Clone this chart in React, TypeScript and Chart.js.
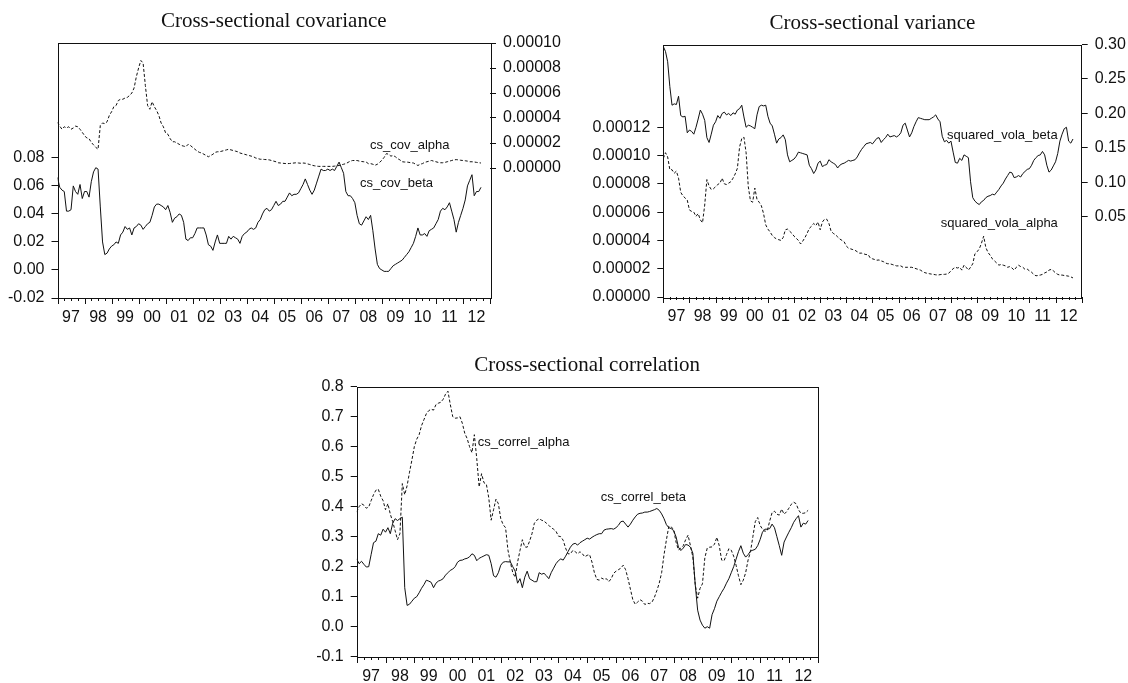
import React, { useEffect, useRef } from 'react';
import { Chart, registerables } from 'chart.js';

Chart.register(...registerables);

// ---------------------------------------------------------------------------
// Monthly observations, January 1997 onward
// ---------------------------------------------------------------------------
const START_YEAR = 1997;
const yearLabels = ['97', '98', '99', '00', '01', '02', '03', '04', '05', '06', '07', '08', '09', '10', '11', '12'];

// Cross-sectional covariance of betas (left axis)
const csCovBeta = [
  0.066, 0.059, 0.057, 0.056, 0.042, 0.042, 0.043, 0.060, 0.056, 0.054, 0.061, 0.051,
  0.056, 0.056, 0.052, 0.063, 0.070, 0.073, 0.072, 0.045, 0.020, 0.011, 0.012, 0.015,
  0.017, 0.018, 0.020, 0.019, 0.025, 0.027, 0.031, 0.029, 0.030, 0.025, 0.030, 0.031,
  0.033, 0.032, 0.029, 0.031, 0.033, 0.034, 0.039, 0.045, 0.047, 0.047, 0.046, 0.045,
  0.043, 0.046, 0.041, 0.034, 0.037, 0.038, 0.040, 0.039, 0.034, 0.022, 0.021, 0.023,
  0.023, 0.026, 0.030, 0.030, 0.030, 0.030, 0.025, 0.018, 0.017, 0.014, 0.020, 0.025,
  0.019, 0.019, 0.019, 0.019, 0.024, 0.022, 0.024, 0.023, 0.022, 0.019, 0.024, 0.026,
  0.027, 0.029, 0.030, 0.029, 0.030, 0.034, 0.036, 0.040, 0.043, 0.044, 0.042, 0.043,
  0.046, 0.049, 0.046, 0.047, 0.049, 0.049, 0.052, 0.055, 0.053, 0.054, 0.054, 0.055,
  0.058, 0.061, 0.065, 0.061, 0.057, 0.054, 0.057, 0.062, 0.067, 0.072, 0.071, 0.071,
  0.072, 0.071, 0.072, 0.071, 0.074, 0.077, 0.073, 0.069, 0.056, 0.053, 0.053, 0.051,
  0.048, 0.039, 0.033, 0.032, 0.035, 0.038, 0.036, 0.039, 0.028, 0.015, 0.004, 0.001,
  0.000, -0.001, -0.001, -0.001, 0.001, 0.003, 0.004, 0.005, 0.006, 0.007, 0.009, 0.011,
  0.013, 0.016, 0.019, 0.024, 0.030, 0.025, 0.025, 0.026, 0.024, 0.028, 0.029, 0.030,
  0.033, 0.036, 0.042, 0.044, 0.043, 0.045, 0.048, 0.042, 0.036, 0.027, 0.034, 0.039,
  0.044, 0.050, 0.060, 0.064, 0.068, 0.053, 0.056, 0.056, 0.059,
];

// Cross-sectional covariance of alphas, in units of 1e-5 (right axis)
const csCovAlphaE5 = [
  3.65, 3.35, 3.1, 3.3, 3.2, 3.3, 3.1, 3.2, 3.35, 3.3, 3.1, 2.85,
  2.6, 2.4, 2.35, 2.05, 1.85, 1.65, 1.5, 3.4, 3.6, 3.55, 3.7, 4.2,
  4.5, 4.9, 5.0, 5.4, 5.5, 5.5, 5.6, 5.65, 5.8, 6.0, 6.4, 7.3,
  8.0, 8.6, 8.4, 6.6, 5.0, 4.7, 5.3, 4.9, 4.6, 4.2, 3.6, 3.3,
  2.8, 2.7, 2.35, 2.1, 2.1, 2.0, 1.9, 1.8, 1.75, 1.7, 1.9, 1.8,
  1.65, 1.5, 1.35, 1.25, 1.2, 1.1, 1.0, 0.9, 1.0, 1.1, 1.25, 1.3,
  1.3, 1.35, 1.4, 1.45, 1.5, 1.45, 1.4, 1.35, 1.3, 1.2, 1.15, 1.1,
  1.05, 1.0, 0.95, 0.9, 0.8, 0.75, 0.7, 0.7, 0.68, 0.67, 0.65, 0.6,
  0.55, 0.5, 0.42, 0.4, 0.38, 0.36, 0.35, 0.36, 0.38, 0.4, 0.42, 0.4,
  0.38, 0.4, 0.38, 0.33, 0.28, 0.22, 0.18, 0.15, 0.13, 0.13, 0.13, 0.13,
  0.13, 0.13, 0.13, 0.15, 0.18, 0.2, 0.25, 0.3, 0.35, 0.45, 0.55, 0.6,
  0.6, 0.6, 0.55, 0.52, 0.5, 0.48, 0.35, 0.35, 0.3, 0.22, 0.3, 0.45,
  0.62, 0.85, 1.15, 1.1, 0.95, 1.0, 0.9, 0.75, 0.65, 0.5, 0.48, 0.48,
  0.45, 0.42, 0.4, 0.3, 0.2, 0.3, 0.35, 0.45, 0.5, 0.55, 0.6, 0.55,
  0.5, 0.45, 0.42, 0.42, 0.45, 0.5, 0.55, 0.6, 0.65, 0.67, 0.65, 0.62,
  0.6, 0.58, 0.55, 0.5, 0.5, 0.48, 0.45, 0.42, 0.4,
];

// Squared volatility of betas (right axis)
const squaredVolaBeta = [
  0.297, 0.290, 0.275, 0.239, 0.212, 0.214, 0.213, 0.225, 0.197, 0.195, 0.196, 0.172,
  0.176, 0.174, 0.170, 0.180, 0.192, 0.205, 0.199, 0.190, 0.165, 0.158, 0.170, 0.183,
  0.188, 0.197, 0.193, 0.200, 0.202, 0.198, 0.200, 0.197, 0.201, 0.199, 0.205, 0.207,
  0.212, 0.195, 0.180, 0.183, 0.182, 0.180, 0.178, 0.198, 0.210, 0.212, 0.211, 0.212,
  0.196, 0.186, 0.182, 0.170, 0.157, 0.163, 0.165, 0.169, 0.162, 0.140, 0.130, 0.132,
  0.134, 0.138, 0.144, 0.143, 0.142, 0.141, 0.140, 0.125, 0.120, 0.113, 0.118, 0.128,
  0.131, 0.123, 0.125, 0.126, 0.133, 0.130, 0.128, 0.126, 0.121, 0.125, 0.127, 0.128,
  0.130, 0.132, 0.131, 0.132, 0.133, 0.137, 0.143, 0.148, 0.152, 0.156, 0.157, 0.158,
  0.156, 0.160, 0.164, 0.165, 0.158, 0.162, 0.165, 0.170, 0.166, 0.167, 0.168, 0.166,
  0.168, 0.172, 0.183, 0.186, 0.176, 0.166, 0.172, 0.181, 0.188, 0.194, 0.193, 0.192,
  0.191, 0.191, 0.191, 0.193, 0.195, 0.198, 0.192, 0.188, 0.167, 0.159, 0.161, 0.157,
  0.160, 0.144, 0.129, 0.128, 0.135, 0.132, 0.140, 0.138, 0.136, 0.101, 0.078, 0.073,
  0.070, 0.068, 0.072, 0.074, 0.078, 0.080, 0.081, 0.083, 0.082, 0.086, 0.090, 0.095,
  0.099, 0.105, 0.110, 0.115, 0.114, 0.107, 0.108, 0.110, 0.108, 0.113, 0.116, 0.119,
  0.120, 0.125, 0.132, 0.136, 0.139, 0.140, 0.145, 0.140, 0.125, 0.115, 0.118, 0.124,
  0.130, 0.142, 0.160, 0.170, 0.178, 0.180, 0.160, 0.157, 0.163,
];

// Squared volatility of alphas, in units of 1e-5 (left axis)
const squaredVolaAlphaE5 = [
  9.8, 10.2, 9.9, 9.0, 9.0, 8.75, 8.9, 8.4, 7.4, 7.15, 7.0, 6.85,
  6.15, 6.05, 6.0, 5.7, 5.9, 5.45, 5.25, 6.5, 8.3, 7.85, 7.6, 7.65,
  7.8, 7.95, 8.05, 8.4, 8.0, 7.95, 8.05, 8.15, 8.4, 8.7, 9.1, 10.6,
  11.2, 11.3, 10.2, 7.8, 6.8, 6.7, 7.7, 6.9, 6.7, 6.45, 5.9, 5.1,
  4.8, 4.6, 4.35, 4.2, 4.1, 4.05, 4.0, 4.2, 4.75, 4.8, 4.65, 4.5,
  4.3, 4.15, 4.0, 3.75, 3.95, 4.2, 4.5, 4.85, 5.0, 5.2, 5.05, 5.3,
  4.75, 5.3, 5.5, 5.5, 5.2, 4.65, 4.5, 4.4, 4.25, 4.1, 4.0, 3.9,
  3.6, 3.45, 3.4, 3.35, 3.3, 3.2, 3.1, 3.1, 3.05, 3.0, 3.0, 2.75,
  2.7, 2.65, 2.6, 2.62, 2.55, 2.5, 2.4, 2.35, 2.35, 2.3, 2.25, 2.2,
  2.2, 2.2, 2.1, 2.1, 2.1, 2.1, 2.1, 2.05, 2.0, 1.95, 1.9, 1.8,
  1.72, 1.68, 1.65, 1.62, 1.6, 1.57, 1.55, 1.58, 1.6, 1.6, 1.62, 1.68,
  1.85, 2.0, 2.1, 2.05, 2.1, 1.9, 2.25, 2.1, 1.9, 2.1, 2.35, 3.05,
  3.2, 3.4, 3.8, 4.3, 3.5, 3.15, 2.95, 2.7, 2.55, 2.4, 2.25, 2.3,
  2.25, 2.2, 2.1, 2.15, 2.05, 1.9, 2.1, 2.25, 2.15, 2.1, 1.95, 1.97,
  1.85, 1.75, 1.6, 1.5, 1.52, 1.55, 1.6, 1.7, 1.77, 1.9, 1.95, 1.85,
  1.7, 1.6, 1.55, 1.55, 1.52, 1.5, 1.47, 1.42, 1.35,
];

// Cross-sectional correlation of betas
const csCorrelBeta = [
  0.226, 0.21, 0.218, 0.208, 0.199, 0.2, 0.24, 0.28, 0.285, 0.31, 0.305, 0.325,
  0.315, 0.33, 0.31, 0.345, 0.36, 0.354, 0.36, 0.365, 0.13, 0.071, 0.075, 0.085,
  0.095, 0.1, 0.113, 0.128, 0.14, 0.155, 0.152, 0.148, 0.13, 0.145, 0.152, 0.155,
  0.16, 0.172, 0.18, 0.188, 0.192, 0.2, 0.215, 0.221, 0.222, 0.226, 0.228, 0.233,
  0.243, 0.238, 0.22, 0.228, 0.232, 0.236, 0.24, 0.238, 0.21, 0.17, 0.165, 0.18,
  0.205, 0.215, 0.217, 0.216, 0.216, 0.2, 0.185, 0.145, 0.16, 0.13, 0.165, 0.185,
  0.16, 0.155, 0.15, 0.15, 0.18, 0.175, 0.178, 0.17, 0.16, 0.18, 0.195, 0.21,
  0.22, 0.226, 0.222, 0.235, 0.25, 0.265, 0.275, 0.278, 0.272, 0.28, 0.285, 0.29,
  0.295, 0.292, 0.298, 0.303, 0.307, 0.31, 0.31, 0.322, 0.325, 0.326, 0.327, 0.325,
  0.33, 0.338, 0.35, 0.352, 0.342, 0.332, 0.342, 0.355, 0.366, 0.375, 0.378, 0.379,
  0.382, 0.382, 0.384, 0.387, 0.39, 0.394, 0.388, 0.376, 0.36, 0.34, 0.33, 0.327,
  0.32, 0.3, 0.265, 0.254, 0.262, 0.274, 0.272, 0.265, 0.245, 0.14, 0.055, 0.022,
  0.005, -0.005, 0.0, -0.005, 0.04, 0.06, 0.085, 0.1, 0.115, 0.128, 0.145, 0.16,
  0.18, 0.2, 0.225, 0.25, 0.27, 0.245, 0.232, 0.24, 0.252, 0.255, 0.258, 0.27,
  0.29, 0.315, 0.325, 0.325, 0.327, 0.342, 0.33, 0.3, 0.27, 0.238, 0.282, 0.299,
  0.315, 0.33, 0.348, 0.36, 0.37, 0.332, 0.345, 0.342, 0.354,
];

// Cross-sectional correlation of alphas
const csCorrelAlpha = [
  0.382, 0.4, 0.41, 0.405, 0.395, 0.399, 0.42, 0.44, 0.455, 0.458, 0.435, 0.42,
  0.39, 0.41, 0.375, 0.35, 0.32, 0.29, 0.31, 0.477, 0.44, 0.47, 0.515, 0.556,
  0.6, 0.625, 0.64, 0.67, 0.69, 0.71, 0.72, 0.725, 0.722, 0.74, 0.745, 0.748,
  0.758, 0.775, 0.785, 0.74, 0.7, 0.695, 0.696, 0.7, 0.678, 0.645, 0.627, 0.6,
  0.58, 0.64, 0.56, 0.466, 0.51, 0.48, 0.475, 0.43, 0.355, 0.39, 0.425, 0.41,
  0.36, 0.34, 0.33, 0.255, 0.215, 0.18, 0.165, 0.215, 0.254, 0.29, 0.266, 0.265,
  0.285, 0.31, 0.345, 0.355, 0.36, 0.355, 0.352, 0.345, 0.338, 0.33, 0.325, 0.318,
  0.302, 0.3, 0.288, 0.262, 0.243, 0.243, 0.254, 0.25, 0.243, 0.25, 0.243, 0.233,
  0.238, 0.24, 0.215, 0.18, 0.158, 0.155, 0.162, 0.158, 0.16, 0.15, 0.16, 0.178,
  0.185, 0.19, 0.195, 0.205, 0.19, 0.16, 0.125, 0.09, 0.075, 0.082, 0.09, 0.085,
  0.074, 0.078, 0.077, 0.082, 0.098, 0.12, 0.145, 0.18, 0.24, 0.29, 0.335, 0.332,
  0.325, 0.282, 0.256, 0.262, 0.27, 0.29, 0.305, 0.27, 0.232, 0.14, 0.095, 0.128,
  0.143, 0.23, 0.262, 0.265, 0.266, 0.275, 0.298, 0.27, 0.222, 0.22, 0.24, 0.26,
  0.255, 0.235, 0.205, 0.17, 0.14, 0.155, 0.18, 0.222, 0.25, 0.3, 0.35, 0.364,
  0.338, 0.325, 0.318, 0.32, 0.352, 0.38, 0.385, 0.375, 0.372, 0.392, 0.375, 0.383,
  0.395, 0.408, 0.415, 0.41, 0.39, 0.378, 0.378, 0.38, 0.388,
];

// Axis tick values
const covBetaTicks = [-0.02, 0, 0.02, 0.04, 0.06, 0.08];
const covAlphaTicks = [0, 0.00002, 0.00004, 0.00006, 0.00008, 0.0001];
const volaAlphaTicks = [0, 0.00002, 0.00004, 0.00006, 0.00008, 0.0001, 0.00012];
const volaBetaTicks = [0.05, 0.1, 0.15, 0.2, 0.25, 0.3];
const correlTicks = [-0.1, 0, 0.1, 0.2, 0.3, 0.4, 0.5, 0.6, 0.7, 0.8];

// ---------------------------------------------------------------------------
// Styling helpers
// ---------------------------------------------------------------------------
const SANS = '"Liberation Sans", Arial, sans-serif';
const SERIF = '"Liberation Serif", "Times New Roman", serif';
const AXIS_FONT = { family: SANS, size: 16 };
const INK = '#111';

const toPoints = (values: number[], unit = 1) =>
  values.map((v, i) => ({ x: START_YEAR + i / 12, y: v * unit }));

const lineSet = (values: number[], axis: string, dashed: boolean, unit = 1) => ({
  data: toPoints(values, unit),
  yAxisID: axis,
  borderColor: INK,
  borderWidth: 1,
  borderDash: dashed ? [3, 2] : [],
  pointRadius: 0,
  tension: 0,
  fill: false,
});

function valueAxis(position: string, min: number, max: number, ticks: number[], decimals: number, width: number) {
  return {
    type: 'linear',
    position,
    min,
    max,
    afterBuildTicks: (s: any) => {
      s.ticks = ticks.map((v) => ({ value: v }));
    },
    afterFit: (s: any) => {
      s.width = width;
    },
    ticks: {
      autoSkip: false,
      font: AXIS_FONT,
      color: INK,
      padding: 7,
      callback: (v: any) => Number(v).toFixed(decimals),
    },
    grid: { drawOnChartArea: false, drawTicks: true, tickLength: 6, color: INK, tickColor: INK },
    border: { display: false },
  };
}

function timeAxis(height: number) {
  return {
    type: 'linear',
    position: 'bottom',
    min: START_YEAR,
    max: START_YEAR + yearLabels.length,
    afterBuildTicks: (s: any) => {
      s.ticks = yearLabels.map((_, k) => ({ value: START_YEAR + k + 0.5 }));
    },
    afterFit: (s: any) => {
      s.height = height;
    },
    ticks: {
      autoSkip: false,
      maxRotation: 0,
      font: AXIS_FONT,
      color: INK,
      padding: 10,
      callback: (v: any) => yearLabels[Math.floor(Number(v)) - START_YEAR],
    },
    grid: { display: false, drawTicks: false },
    border: { display: false },
  };
}

type SeriesLabel = { text: string; x: number; y: number; axis: string };

// Frame, quarterly tick marks, panel title and in-plot series names
function decorPlugin(title: string, labels: SeriesLabel[]) {
  return {
    id: 'panelDecor',
    afterDatasetsDraw(chart: any) {
      const { ctx, chartArea } = chart;
      const { left, right, top, bottom } = chartArea;
      const xs = chart.scales.x;
      ctx.save();
      ctx.strokeStyle = INK;
      ctx.lineWidth = 1;
      ctx.setLineDash([]);
      ctx.strokeRect(Math.round(left) + 0.5, Math.round(top) + 0.5, Math.round(right - left), Math.round(bottom - top));

      const quarters = yearLabels.length * 4;
      ctx.beginPath();
      for (let q = 0; q <= quarters; q++) {
        const px = Math.round(xs.getPixelForValue(START_YEAR + q / 4)) + 0.5;
        const len = q % 4 === 0 ? 6 : 3;
        ctx.moveTo(px, Math.round(bottom));
        ctx.lineTo(px, Math.round(bottom) + len);
      }
      ctx.stroke();

      ctx.fillStyle = INK;
      ctx.font = `21px ${SERIF}`;
      ctx.textAlign = 'center';
      ctx.textBaseline = 'alphabetic';
      ctx.fillText(title, (left + right) / 2, top - 16);

      ctx.font = `13px ${SANS}`;
      ctx.textAlign = 'left';
      labels.forEach((l) => {
        ctx.fillText(l.text, xs.getPixelForValue(l.x), chart.scales[l.axis].getPixelForValue(l.y));
      });
      ctx.restore();
    },
  };
}

type PanelSpec = {
  left: number;
  top: number;
  width: number;
  height: number;
  padTop: number;
  padRight: number;
  title: string;
  datasets: any[];
  scales: Record<string, any>;
  labels: SeriesLabel[];
};

function Panel({ spec }: { spec: PanelSpec }) {
  const ref = useRef<HTMLCanvasElement>(null);
  useEffect(() => {
    if (!ref.current) return;
    const chart = new Chart(ref.current, {
      type: 'line',
      data: { datasets: spec.datasets },
      options: {
        responsive: false,
        maintainAspectRatio: false,
        animation: false,
        events: [],
        layout: { padding: { top: spec.padTop, right: spec.padRight, left: 0, bottom: 0 } },
        plugins: { legend: { display: false }, tooltip: { enabled: false }, title: { display: false } },
        scales: spec.scales,
      } as any,
      plugins: [decorPlugin(spec.title, spec.labels)],
    });
    return () => chart.destroy();
  }, [spec]);
  return (
    <div style={{ position: 'absolute', left: spec.left, top: spec.top }}>
      <canvas ref={ref} width={spec.width} height={spec.height} style={{ display: 'block' }} />
    </div>
  );
}

const covariancePanel: PanelSpec = {
  left: 0,
  top: 0,
  width: 564,
  height: 330,
  padTop: 43,
  padRight: 0,
  title: 'Cross-sectional covariance',
  datasets: [lineSet(csCovAlphaE5, 'yR', true, 1e-5), lineSet(csCovBeta, 'yL', false)],
  scales: {
    x: timeAxis(32),
    yL: valueAxis('left', -0.02, 0.162, covBetaTicks, 2, 57.5),
    yR: valueAxis('right', -0.000104, 0.0001, covAlphaTicks, 5, 74),
  },
  labels: [
    { text: 'cs_cov_alpha', x: 2008.56, y: 0.0000152, axis: 'yR' },
    { text: 'cs_cov_beta', x: 2008.19, y: 0.059, axis: 'yL' },
  ],
};

const variancePanel: PanelSpec = {
  left: 564,
  top: 0,
  width: 564,
  height: 330,
  padTop: 44.5,
  padRight: 0,
  title: 'Cross-sectional variance',
  datasets: [lineSet(squaredVolaAlphaE5, 'yL', true, 1e-5), lineSet(squaredVolaBeta, 'yR', false)],
  scales: {
    x: timeAxis(33),
    yL: valueAxis('left', 0, 0.0001785, volaAlphaTicks, 5, 99.3),
    yR: valueAxis('right', -0.066, 0.3, volaBetaTicks, 2, 46.3),
  },
  labels: [
    { text: 'squared_vola_beta', x: 2007.85, y: 0.1626, axis: 'yR' },
    { text: 'squared_vola_alpha', x: 2007.61, y: 0.0000494, axis: 'yL' },
  ],
};

const correlationPanel: PanelSpec = {
  left: 0,
  top: 330,
  width: 1128,
  height: 353,
  padTop: 56.7,
  padRight: 310.3,
  title: 'Cross-sectional correlation',
  datasets: [lineSet(csCorrelAlpha, 'y', true), lineSet(csCorrelBeta, 'y', false)],
  scales: {
    x: timeAxis(26.3),
    y: valueAxis('left', -0.1, 0.8, correlTicks, 1, 356.7),
  },
  labels: [
    { text: 'cs_correl_alpha', x: 2001.2, y: 0.602, axis: 'y' },
    { text: 'cs_correl_beta', x: 2005.47, y: 0.418, axis: 'y' },
  ],
};

export default function App() {
  useEffect(() => {
    document.body.style.margin = '0';
  }, []);
  return (
    <div style={{ position: 'relative', width: 1128, height: 683, background: '#fff', overflow: 'hidden' }}>
      <Panel spec={covariancePanel} />
      <Panel spec={variancePanel} />
      <Panel spec={correlationPanel} />
    </div>
  );
}
